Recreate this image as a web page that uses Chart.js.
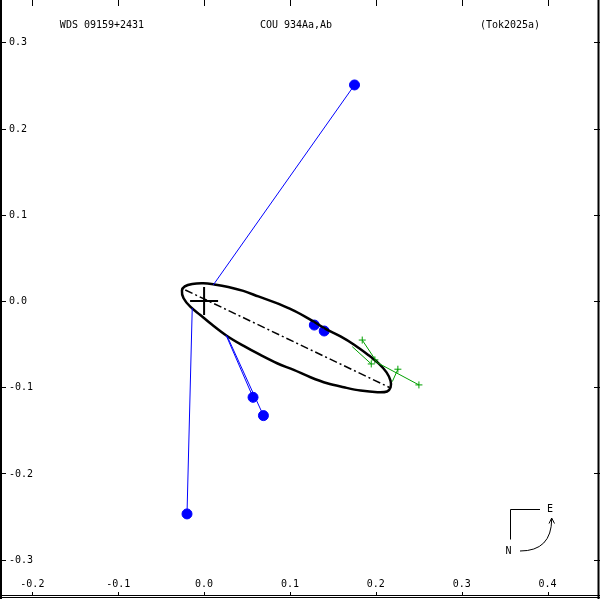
<!DOCTYPE html>
<html lang="en">
<head>
<meta charset="UTF-8">
<title>WDS 09159+2431 COU 934Aa,Ab orbit</title>
<script src="https://cdn.jsdelivr.net/npm/chart.js"></script>
<style>
  body { margin: 0; background: #fff; }
  #wrap { width: 600px; height: 600px; }
</style>
</head>
<body>
<div id="wrap"><canvas id="orbit" width="600" height="600"></canvas></div>
<script>
// axis ticks
const xTicks = [-0.2, -0.1, 0.0, 0.1, 0.2, 0.3, 0.4];
const xTickLabels = ['-0.2', '-0.1', '0.0', '0.1', '0.2', '0.3', '0.4'];
const yTicks = [-0.3, -0.2, -0.1, 0.0, 0.1, 0.2, 0.3];
const yTickLabels = ['-0.3', '-0.2', '-0.1', '0.0', '0.1', '0.2', '0.3'];

// apparent orbit (starts mid upper edge)
const orbitX = [0.0854, 0.1052, 0.1262, 0.1425, 0.1589, 0.1752, 0.1904, 0.2032, 0.2125, 0.2172,
  0.2172, 0.2131, 0.2020, 0.1822, 0.1627, 0.1434, 0.1239, 0.1044, 0.0850, 0.0656, 0.0461,
  0.0267, 0.0072, -0.0044, -0.0161, -0.0239, -0.0258, -0.0225, -0.0138, -0.0009, 0.0119,
  0.0282, 0.0457, 0.0632, 0.0854];
const orbitY = [-0.0028, -0.0115, -0.0231, -0.0330, -0.0411, -0.0510, -0.0620, -0.0724, -0.0828, -0.0927,
  -0.1002, -0.1049, -0.1058, -0.1039, -0.1000, -0.0954, -0.0884, -0.0799, -0.0722, -0.0626, -0.0521,
  -0.0405, -0.0258, -0.0162, -0.0066, 0.0032, 0.0120, 0.0169, 0.0198, 0.0206, 0.0192,
  0.0163, 0.0117, 0.0053, -0.0028];

// line of nodes
const nodesX = [-0.0219, 0.2160];
const nodesY = [0.0128, -0.1003];

// blue measures and their computed positions
const blueObsX = [0.1752, -0.0199, 0.0570, 0.0691, 0.1284, 0.1399];
const blueObsY = [0.2505, -0.2469, -0.1117, -0.1329, -0.0279, -0.0348];
const bluePredX = [0.0107, -0.0138, 0.0255, 0.0270, 0.1270, 0.1390];
const bluePredY = [0.0186, -0.0081, -0.0394, -0.0410, -0.0250, -0.0320];

// green measures and their computed positions
const greenObsX = [0.1842, 0.1989, 0.1947, 0.2257, 0.2502];
const greenObsY = [-0.0453, -0.0683, -0.0730, -0.0791, -0.0973];
const greenPredX = [0.2017, 0.2000, 0.1725, 0.2192, 0.2017];
const greenPredY = [-0.0715, -0.0700, -0.0529, -0.0935, -0.0715];

const titleLeft = 'WDS 09159+2431';
const titleMid = 'COU 934Aa,Ab';
const titleRight = '(Tok2025a)';

const BLUE = '#0000ff';
const GREEN = '#00a000';
const FONT = '10px "DejaVu Sans Mono"';

function pts(xs, ys) {
  return xs.map((x, i) => ({ x: x, y: ys[i] }));
}

const datasets = [];

// O-C lines first so the dots sit on top
blueObsX.forEach((x, i) => {
  datasets.push({
    data: [{ x: x, y: blueObsY[i] }, { x: bluePredX[i], y: bluePredY[i] }],
    showLine: true, borderColor: BLUE, borderWidth: 1, pointRadius: 0
  });
});
greenObsX.forEach((x, i) => {
  datasets.push({
    data: [{ x: x, y: greenObsY[i] }, { x: greenPredX[i], y: greenPredY[i] }],
    showLine: true, borderColor: GREEN, borderWidth: 1, pointRadius: 0
  });
});

datasets.push({
  data: pts(orbitX, orbitY),
  showLine: true, borderColor: '#000', borderWidth: 2.5, pointRadius: 0, tension: 0.35
});
datasets.push({
  data: pts(nodesX, nodesY),
  showLine: true, borderColor: '#000', borderWidth: 1.5, borderDash: [8, 3, 2, 3], pointRadius: 0
});
datasets.push({
  data: pts(blueObsX, blueObsY),
  showLine: false, pointRadius: 5, backgroundColor: BLUE, borderColor: BLUE, borderWidth: 1
});
datasets.push({
  data: pts(greenObsX, greenObsY),
  showLine: false, pointStyle: 'cross', pointRadius: 3.5, borderColor: GREEN, borderWidth: 1
});
// primary star
datasets.push({
  data: [{ x: 0, y: 0 }],
  showLine: false, pointStyle: 'cross', pointRadius: 14, borderColor: '#000', borderWidth: 2
});

const framePlugin = {
  id: 'framePlugin',
  afterDraw(chart) {
    const c = chart.ctx;
    const xs = chart.scales.x, ys = chart.scales.y;
    c.save();
    c.strokeStyle = '#000';
    c.fillStyle = '#000';

    // border
    c.lineWidth = 2;
    c.beginPath();
    c.moveTo(1, 0); c.lineTo(1, 599);
    c.moveTo(598.5, 0); c.lineTo(598.5, 599);
    c.stroke();
    c.lineWidth = 1;
    c.beginPath();
    c.moveTo(0, 595.5); c.lineTo(600, 595.5);
    c.moveTo(0, 597.5); c.lineTo(600, 597.5);
    c.stroke();

    // inward tick marks on all four sides
    c.beginPath();
    xTicks.forEach(v => {
      const px = Math.round(xs.getPixelForValue(v)) + 0.5;
      c.moveTo(px, 0); c.lineTo(px, 6);
      c.moveTo(px, 592); c.lineTo(px, 596);
    });
    yTicks.forEach(v => {
      const py = Math.round(ys.getPixelForValue(v)) + 0.5;
      c.moveTo(0, py); c.lineTo(6, py);
      c.moveTo(594, py); c.lineTo(600, py);
    });
    c.stroke();

    c.font = FONT;
    c.textBaseline = 'middle';
    c.textAlign = 'left';
    yTicks.forEach((v, i) => {
      c.fillText(yTickLabels[i], 9, ys.getPixelForValue(v) + 0.5);
    });
    c.textAlign = 'center';
    xTicks.forEach((v, i) => {
      c.fillText(xTickLabels[i], xs.getPixelForValue(v), 584.5);
    });

    // header
    c.fillText(titleLeft, 102, 25.5);
    c.fillText(titleMid, 296, 25.5);
    c.fillText(titleRight, 510, 25.5);

    // compass
    c.lineWidth = 1;
    c.beginPath();
    c.moveTo(510.5, 539.5); c.lineTo(510.5, 509.5); c.lineTo(540, 509.5);
    c.stroke();
    c.beginPath();
    c.moveTo(520, 551);
    c.quadraticCurveTo(551.5, 551, 551.7, 519);
    c.stroke();
    c.beginPath();
    c.moveTo(549, 523.5); c.lineTo(551.7, 518); c.lineTo(554.5, 523.5);
    c.stroke();
    c.fillText('E', 550, 509.5);
    c.fillText('N', 508.5, 551);
    c.restore();
  }
};

new Chart(document.getElementById('orbit'), {
  type: 'scatter',
  data: { datasets: datasets },
  options: {
    responsive: false,
    animation: false,
    layout: { padding: 0, autoPadding: false },
    plugins: { legend: { display: false }, tooltip: { enabled: false } },
    scales: {
      x: { display: false, min: -0.2377, max: 0.4611 },
      y: { display: false, min: -0.3467, max: 0.3490 }
    }
  },
  plugins: [framePlugin]
});
</script>
</body>
</html>
